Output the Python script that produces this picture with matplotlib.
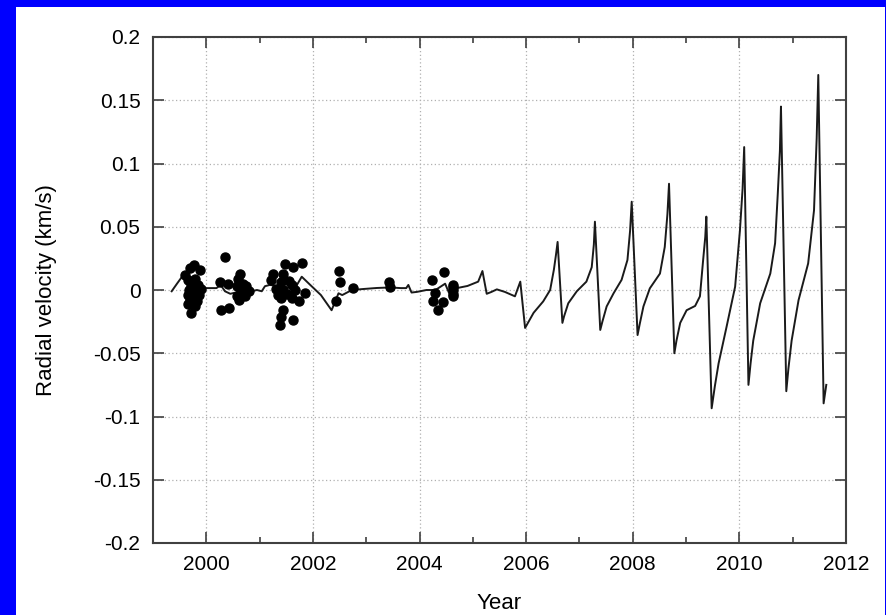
import numpy as np
import matplotlib
matplotlib.use('Agg')
import matplotlib.pyplot as plt
from matplotlib.patches import Rectangle

plt.rcParams['font.family'] = ['Liberation Sans', 'DejaVu Sans']

# model curve (year, km/s)
model_year = [1999.35, 1999.45, 1999.57, 1999.70, 1999.85, 2000.00, 2000.19, 2000.27,
              2000.35, 2000.45, 2000.55, 2000.70, 2000.85, 2000.95, 2001.04, 2001.10,
              2001.19, 2001.35, 2001.55, 2001.70, 2001.79, 2001.95, 2002.15, 2002.35,
              2002.48, 2002.55, 2002.73, 2002.95, 2003.20, 2003.45, 2003.65, 2003.75,
              2003.79, 2003.85, 2003.95, 2004.13, 2004.30, 2004.48, 2004.55, 2004.60,
              2004.70, 2004.90, 2005.10, 2005.18, 2005.26, 2005.35, 2005.45, 2005.60,
              2005.79, 2005.89, 2005.98, 2006.02, 2006.14, 2006.32, 2006.45, 2006.52,
              2006.56, 2006.59, 2006.68, 2006.71, 2006.79, 2006.95, 2007.13, 2007.23,
              2007.27, 2007.29, 2007.39, 2007.43, 2007.51, 2007.64, 2007.79, 2007.90,
              2007.95, 2007.98, 2008.09, 2008.13, 2008.20, 2008.32, 2008.51, 2008.60,
              2008.65, 2008.68, 2008.78, 2008.82, 2008.89, 2009.01, 2009.17, 2009.26,
              2009.32, 2009.36, 2009.38, 2009.48, 2009.54, 2009.61, 2009.76, 2009.92,
              2010.01, 2010.06, 2010.09, 2010.17, 2010.21, 2010.26, 2010.39, 2010.58,
              2010.67, 2010.72, 2010.76, 2010.78, 2010.88, 2010.92, 2010.98, 2011.11,
              2011.29, 2011.40, 2011.45, 2011.48, 2011.58, 2011.63]
model_rv = [-0.001, 0.005, 0.012, 0.006, 0.002, 0.0015, 0.0015, 0.004,
            -0.001, -0.003, -0.002, -0.001, -0.001, 0.000, -0.001, 0.003,
            0.004, 0.003, 0.002, 0.004, 0.0105, 0.004, -0.004, -0.016,
            -0.0026, -0.004, 0.000, 0.0008, 0.0016, 0.002, 0.0015, 0.0015,
            0.004, -0.002, -0.0015, 0.000, 0.000, 0.005, -0.002, -0.004,
            0.0015, 0.0032, 0.0066, 0.015, -0.003, -0.0015, 0.0005, -0.0015,
            -0.005, 0.0066, -0.030, -0.027, -0.018, -0.009, 0.000, 0.016,
            0.028, 0.038, -0.026, -0.021, -0.0105, -0.001, 0.0066, 0.018,
            0.036, 0.054, -0.0316, -0.025, -0.013, -0.0026, 0.008, 0.0237,
            0.047, 0.0698, -0.0356, -0.027, -0.013, 0.0013, 0.013, 0.034,
            0.060, 0.084, -0.050, -0.040, -0.026, -0.016, -0.0126, -0.005,
            0.0237, 0.042, 0.058, -0.0935, -0.076, -0.058, -0.029, 0.0026,
            0.047, 0.080, 0.113, -0.075, -0.058, -0.040, -0.0105, 0.013,
            0.037, 0.076, 0.110, 0.145, -0.080, -0.062, -0.040, -0.008,
            0.021, 0.063, 0.120, 0.170, -0.0896, -0.075]

# measured points
obs_year = [1999.76, 1999.88, 1999.60, 1999.70, 1999.65, 1999.78, 1999.72, 1999.85,
            1999.68, 1999.80, 1999.90, 1999.66, 1999.76, 1999.86, 1999.70, 1999.82,
            1999.66, 1999.78, 1999.72,
            2000.35, 2000.26, 2000.41, 2000.27, 2000.43, 2000.63, 2000.60, 2000.69,
            2000.57, 2000.75, 2000.66, 2000.81, 2000.57, 2000.72, 2000.62,
            2001.48, 2001.63, 2001.79, 2001.26, 2001.44, 2001.22, 2001.41, 2001.56,
            2001.30, 2001.44, 2001.60, 2001.66, 2001.85, 2001.41, 2001.60, 2001.73,
            2001.44, 2001.41, 2001.63, 2001.38, 2001.52, 2001.34,
            2002.49, 2002.51, 2002.44, 2002.75, 2003.42, 2003.44,
            2004.23, 2004.45, 2004.29, 2004.25, 2004.44, 2004.35,
            2004.63, 2004.63, 2004.63, 2004.63, 2004.63]
obs_rv = [0.020, 0.016, 0.012, 0.017, 0.008, 0.009, 0.004, 0.004,
          0.000, 0.000, 0.001, -0.004, -0.005, -0.004, -0.008, -0.009,
          -0.011, -0.013, -0.018,
          0.026, 0.0066, 0.005, -0.016, -0.0145, 0.013, 0.009, 0.005,
          0.003, 0.003, -0.001, -0.001, -0.005, -0.005, -0.008,
          0.0205, 0.018, 0.021, 0.013, 0.013, 0.008, 0.006, 0.007,
          0.001, 0.000, 0.004, 0.000, -0.0026, -0.006, -0.006, -0.009,
          -0.016, -0.021, -0.024, -0.028, -0.003, -0.004,
          0.0153, 0.006, -0.009, 0.0013, 0.0066, 0.0026,
          0.008, 0.0145, -0.002, -0.009, -0.0097, -0.016,
          0.004, 0.0, -0.005, 0.002, -0.003]

x_ticks = [2000, 2002, 2004, 2006, 2008, 2010, 2012]
y_ticks = [-0.2, -0.15, -0.1, -0.05, 0, 0.05, 0.1, 0.15, 0.2]
y_labels = ['-0.2', '-0.15', '-0.1', '-0.05', '0', '0.05', '0.1', '0.15', '0.2']

fig = plt.figure(figsize=(8.87, 6.15), dpi=100, facecolor='#0000ff')
# white panel inside the blue frame
fig.patches.append(Rectangle((16 / 887, 0), 869 / 887, 608 / 615,
                             transform=fig.transFigure, facecolor='white',
                             edgecolor='none', zorder=-5))

ax = fig.add_axes([153 / 887, 72 / 615, 693 / 887, 506 / 615])
ax.plot(model_year, model_rv, color='#1a1a1a', lw=1.4, zorder=3)
ax.plot(obs_year, obs_rv, 'o', color='black', ms=6.5, zorder=4)

ax.set_xlim(1999, 2012)
ax.set_ylim(-0.2, 0.2)
ax.set_xticks(x_ticks)
ax.set_xticks(np.arange(2001, 2012, 2), minor=True)
ax.set_yticks(y_ticks)
ax.set_yticklabels(y_labels)
ax.tick_params(which='both', direction='in', top=True, right=True,
               labelsize=15, color='#404040', width=1.2, pad=9)
ax.tick_params(which='major', length=8)
ax.tick_params(which='minor', length=4)
ax.grid(True, which='major', linestyle=(0, (1, 2)), color='#b0b0b0', lw=0.9)
for s in ax.spines.values():
    s.set_color('#404040')
    s.set_linewidth(1.5)

ax.set_xlabel('Year', fontsize=16, labelpad=13)
ax.set_ylabel('Radial velocity (km/s)', fontsize=16, labelpad=26)

fig.savefig('out.png', dpi=100, facecolor=fig.get_facecolor())
